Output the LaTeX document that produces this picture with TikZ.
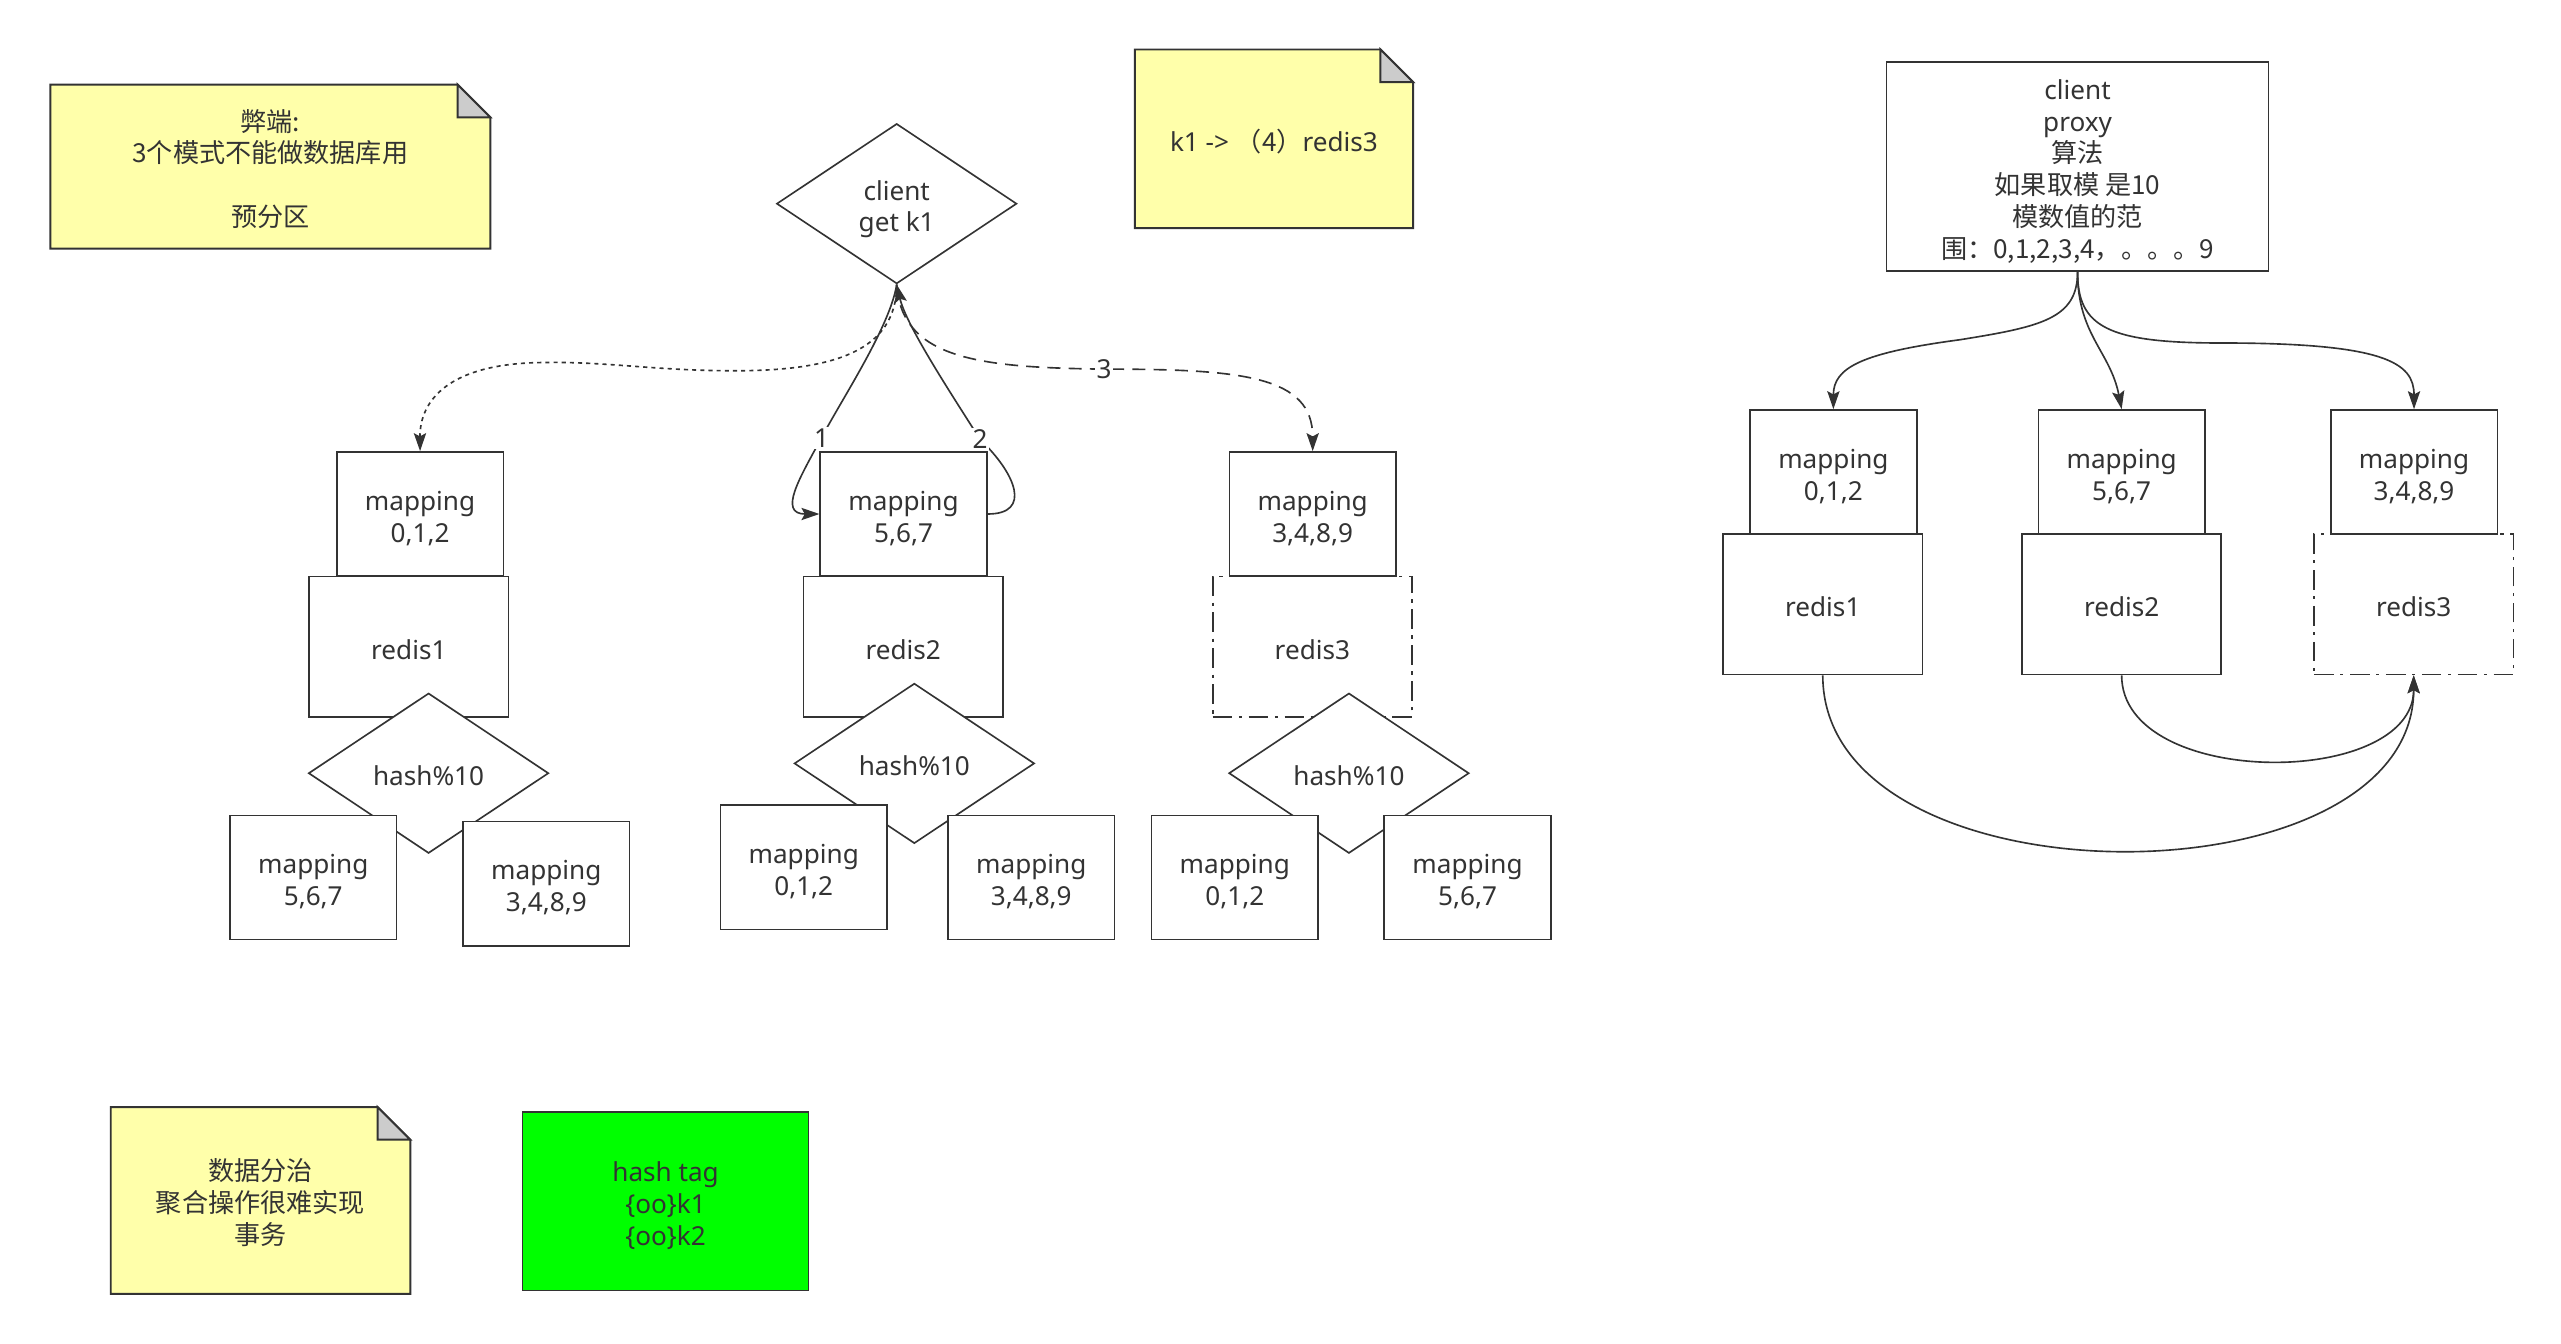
\documentclass[tikz,border=0pt]{standalone}
\usepackage{fontspec}
\setmainfont{Noto Sans}
\newfontfamily\cjk{Noto Sans CJK SC}
\usetikzlibrary{shapes.geometric,arrows.meta,backgrounds}
\definecolor{lnc}{HTML}{333333}
\definecolor{txc}{HTML}{333333}
\definecolor{notey}{HTML}{FFFFAA}
\definecolor{foldg}{HTML}{CCCCCC}
\definecolor{greenf}{HTML}{00FF00}
\newcommand\myfs{\fontsize{16pt}{19.5pt}\selectfont}
\newcommand\tsx{\rule{0pt}{19pt}}
\newcommand\bsx{\rule[-4pt]{0pt}{4pt}}
\newcommand\mapt[1]{\tsx mapping\\#1\bsx}
\begin{document}
\begin{tikzpicture}[x=1pt,y=-1pt,
  base/.style={draw=lnc, line width=1pt, fill=white, inner sep=0pt, align=center, font=\myfs, text=txc},
  mapbox/.style={base, minimum width=102pt, minimum height=76pt},
  redisbox/.style={base, minimum width=122pt, minimum height=86pt},
  hashdia/.style={base, diamond, minimum width=147pt, minimum height=98pt},
  dashdot/.style={dash pattern=on 12pt off 4pt on 2pt off 4pt},
  notebox/.style={inner sep=0pt, align=center, font=\myfs, text=txc},
  notefill/.style={draw=lnc, line width=1.2pt, fill=notey, line join=miter},
  foldfill/.style={draw=lnc, line width=1.2pt, fill=foldg, line join=miter},
  conn/.style={draw=lnc, line width=1pt},
  arr/.style={conn, -{Stealth[length=11pt,width=7.5pt,inset=2pt]}},
  lbl/.style={fill=white, inner sep=1pt, font=\myfs, text=txc},
  dots/.style={dash pattern=on 2.5pt off 2.5pt},
  dashes/.style={dash pattern=on 8pt off 5pt}
]
\path[use as bounding box] (0,0) rectangle (1568,822.3);
\begin{scope}[on background layer]
  \fill[white] (0,0) rectangle (1568,822.3);
\end{scope}

% ---------- notes ----------
\node[notebox, minimum width=269pt, minimum height=100pt] (n1) at (165.5,102)
  {\tsx{\cjk 弊端:}\\{\cjk 3个模式不能做数据库用}\\[19.5pt]{\cjk 预分区}\bsx};
\node[notebox, minimum width=170pt, minimum height=109pt] (n2) at (780,85)
  {\tsx k1 -> {\cjk （4）}redis3\bsx};
\node[notebox, minimum width=183pt, minimum height=114pt] (n3) at (159.5,735)
  {\tsx{\cjk 数据分治}\\{\cjk 聚合操作很难实现}\\{\cjk 事务}\bsx};
\begin{scope}[on background layer]
  \foreach \n in {n1,n2,n3}{
    \draw[notefill] (\n.north west) -- ([xshift=-20pt]\n.north east) -- ([yshift=-20pt]\n.north east)
      -- (\n.south east) -- (\n.south west) -- cycle;
    \draw[foldfill] ([xshift=-20pt]\n.north east) -- ([xshift=-20pt,yshift=-20pt]\n.north east)
      -- ([yshift=-20pt]\n.north east) -- cycle;
  }
\end{scope}

\node[base, fill=greenf, minimum width=175pt, minimum height=109pt] (ht) at (407.5,735.5)
  {\tsx hash tag\\\{oo\}k1\\\{oo\}k2\bsx};

% ---------- client ----------
\node[hashdia] (cl) at (549,124.7) {\tsx client\\get k1\bsx};

% ---------- left column ----------
\node[redisbox] (rL) at (250.3,396) {\tsx redis1\bsx};
\node[mapbox] (mL) at (257.2,314.7) {\mapt{0,1,2}};
\node[hashdia] (dL) at (262.4,473.4) {\tsx hash\%10\bsx};
\node[mapbox] (bL1) at (191.8,537.3) {\mapt{5,6,7}};
\node[mapbox] (bL2) at (334.5,541) {\mapt{3,4,8,9}};

% ---------- middle column ----------
\node[redisbox] (rM) at (553,396) {\tsx redis2\bsx};
\node[mapbox] (mM) at (553.2,314.7) {\mapt{5,6,7}};
\node[hashdia] (dM) at (559.8,467.4) {\tsx hash\%10\bsx};
\node[mapbox] (bM1) at (492.1,531) {\mapt{0,1,2}};
\node[mapbox] (bM2) at (631.4,537.3) {\mapt{3,4,8,9}};

% ---------- right column ----------
\node[redisbox, dashdot] (rRt) at (803.5,396) {\tsx redis3\bsx};
\node[mapbox] (mRt) at (803.7,314.7) {\mapt{3,4,8,9}};
\node[hashdia] (dRt) at (825.9,473.4) {\tsx hash\%10\bsx};
\node[mapbox] (bR1) at (756,537.3) {\mapt{0,1,2}};
\node[mapbox] (bR2) at (898.5,537.3) {\mapt{5,6,7}};

% ---------- client connectors ----------
\draw[arr, dots] (cl.south) .. controls (549,215) and (510,227) .. (450,227)
  .. controls (400,227) and (370,221) .. (330,222)
  .. controls (275,223) and (257,245) .. (mL.north);
\draw[arr] (cl.south) .. controls (545,200) and (515,245) .. (503,268) node[lbl] (l1) {1}
  .. controls (490,292) and (476,314.7) .. (mM.west);
\draw[arr] (mM.east) .. controls (632,314.7) and (622,290) .. (600,269) node[lbl] (l2) {2}
  .. controls (585,245) and (555,200) .. (cl.south);
\draw[arr, dashes] (cl.south) .. controls (552,220) and (600,225) .. (676,226) node[lbl] (l3) {3}
  .. controls (760,226) and (803.7,230) .. (mRt.north);

% ---------- proxy section ----------
\node[base, minimum width=234pt, minimum height=128pt] (cp) at (1272,102)
  {\tsx client\\proxy\\{\cjk 算法}\\{\cjk 如果取模 是10}\\{\cjk 模数值的范}\\{\cjk 围：0,1,2,3,4，。。。9}\bsx};
\node[redisbox] (rR1) at (1116,370) {\tsx redis1\bsx};
\node[redisbox] (rR2) at (1299,370) {\tsx redis2\bsx};
\node[redisbox, dashdot] (rR3) at (1477.8,370) {\tsx redis3\bsx};
\node[mapbox] (mR1) at (1122.5,289) {\mapt{0,1,2}};
\node[mapbox] (mR2) at (1299,289) {\mapt{5,6,7}};
\node[mapbox] (mR3) at (1478,289) {\mapt{3,4,8,9}};

\draw[arr] (cp.south) .. controls (1272,195) and (1250,200) .. (1200,208)
  .. controls (1140,216) and (1122.5,225) .. (mR1.north);
\draw[arr] (cp.south) .. controls (1272,205) and (1292,215) .. (mR2.north);
\draw[arr] (cp.south) .. controls (1272,200) and (1290,210) .. (1360,210)
  .. controls (1460,210) and (1478,222) .. (mR3.north);
\draw[arr] (rR1.south) .. controls (1116,556) and (1477.8,556) .. (rR3.south);
\draw[arr] (rR2.south) .. controls (1299,483) and (1477.8,483) .. (rR3.south);
\end{tikzpicture}
\end{document}
